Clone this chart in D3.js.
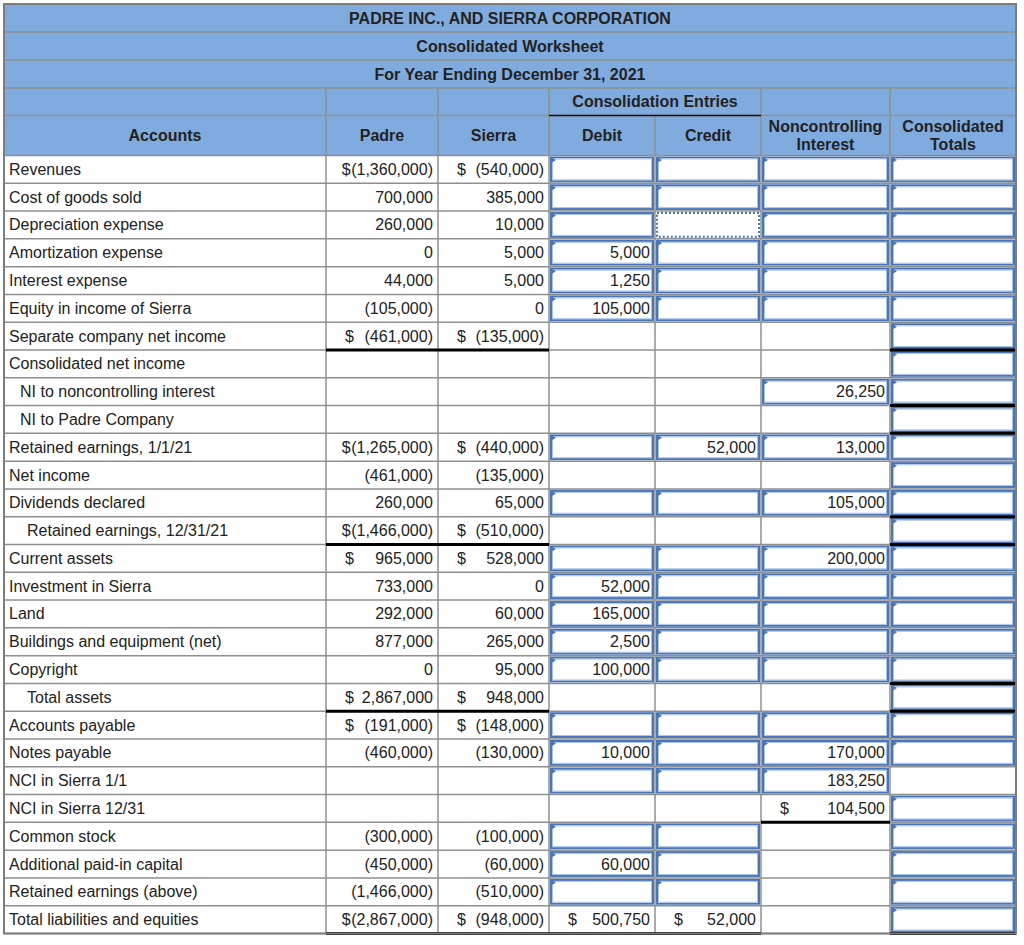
<!DOCTYPE html>
<html><head><meta charset="utf-8">
<script src="https://cdn.jsdelivr.net/npm/d3@7"></script>
<style>body{margin:0;background:#fff;} text{font-family:"Liberation Sans",Arial,Helvetica,sans-serif;}</style>
</head><body><svg id="c" width="1024" height="945"></svg>
<script>
// ---------------- DATA ----------------
const titleLines = ["PADRE INC., AND SIERRA CORPORATION", "Consolidated Worksheet", "For Year Ending December 31, 2021"];
const groupHeader = "Consolidation Entries";
const columnHeaders = [["Accounts"], ["Padre"], ["Sierra"], ["Debit"], ["Credit"], ["Noncontrolling", "Interest"], ["Consolidated", "Totals"]];
const accounts = ["Revenues", "Cost of goods sold", "Depreciation expense", "Amortization expense", "Interest expense",
  "Equity in income of Sierra", "Separate company net income", "Consolidated net income", "NI to noncontrolling interest",
  "NI to Padre Company", "Retained earnings, 1/1/21", "Net income", "Dividends declared", "Retained earnings, 12/31/21",
  "Current assets", "Investment in Sierra", "Land", "Buildings and equipment (net)", "Copyright", "Total assets",
  "Accounts payable", "Notes payable", "NCI in Sierra 1/1", "NCI in Sierra 12/31", "Common stock",
  "Additional paid-in capital", "Retained earnings (above)", "Total liabilities and equities"];
const indentLevel = [0,0,0,0,0,0,0,0,1,1,0,0,0,2,0,0,0,0,0,2,0,0,0,0,0,0,0,0];
const padre = [-1360000, 700000, 260000, 0, 44000, -105000, -461000, null, null, null, -1265000, -461000, 260000, -1466000,
  965000, 733000, 292000, 877000, 0, 2867000, -191000, -460000, null, null, -300000, -450000, -1466000, -2867000];
const sierra = [-540000, 385000, 10000, 5000, 5000, 0, -135000, null, null, null, -440000, -135000, 65000, -510000,
  528000, 0, 60000, 265000, 95000, 948000, -148000, -130000, null, null, -100000, -60000, -510000, -948000];
const debit = [null, null, null, 5000, 1250, 105000, null, null, null, null, null, null, null, null,
  null, 52000, 165000, 2500, 100000, null, null, 10000, null, null, null, 60000, null, 500750];
const credit = [null, null, null, null, null, null, null, null, null, null, 52000, null, null, null,
  null, null, null, null, null, null, null, null, null, null, null, null, null, 52000];
const nci = [null, null, null, null, null, null, null, null, 26250, null, 13000, null, 105000, null,
  200000, null, null, null, null, null, null, 170000, 183250, 104500, null, null, null, null];
const consolidated = new Array(28).fill(null);
const dollarRowsCompany = [0, 6, 10, 13, 14, 19, 20, 27];
const dollarRowsEntries = [27];
const dollarRowsNci = [23];
// input-cell kinds per column: B = entry box, D = focused (dotted) box, P = plain
const debitCells  = "BBBBBBPPPPBPBPBBBBBPBBBPBBBP";
const creditCells = "BBDBBBPPPPBPBPBBBBBPBBBPBBBP";
const nciCells    = "BBBBBBPPBPBPBPBBBBBPBBBPPPPP";
const consCells   = "BBBBBBBBBBBBBBBBBBBBBBPBBBBB";
// total underlines: column index -> rows whose bottom edge is ruled
const totalRules = [[1, [6, 13, 19, 27]], [2, [6, 13, 19, 27]], [3, [27]], [4, [27]], [5, [23]], [6, [6, 8, 9, 12, 13, 18, 19, 27]]];

// ---------------- LAYOUT ----------------
const colEdges = [4, 326, 438, 549, 655, 761, 890, 1016];
const headerEdges = [4, 32, 60, 88, 115.5, 155.5];
const HEADER_FILL = "#80abdf", GRID = "#8f8f8f", BOX = "#4a76b5", BOX_IN = "#a8c3e8", INK = "#222";
const svg = d3.select("#c");
svg.append("rect").attr("width", 1024).attr("height", 945).attr("fill", "#fff");

const rowScale = d3.scaleBand().domain(d3.range(accounts.length)).range([155.5, 933.5]).padding(0);
const colX = i => colEdges[i];
const colW = i => colEdges[i + 1] - colEdges[i];

// header background
svg.append("rect").attr("x", colEdges[0]).attr("y", headerEdges[0])
  .attr("width", colEdges[7] - colEdges[0]).attr("height", headerEdges[5] - headerEdges[0]).attr("fill", HEADER_FILL);

headerEdges.slice(1).forEach(y => {
  svg.append("line").attr("x1", colEdges[0]).attr("x2", colEdges[7]).attr("y1", y).attr("y2", y)
    .attr("stroke", GRID).attr("stroke-width", 1.5);
});
[1, 2, 3, 5, 6].forEach(c => svg.append("line").attr("x1", colX(c)).attr("x2", colX(c))
  .attr("y1", headerEdges[3]).attr("y2", headerEdges[5]).attr("stroke", GRID).attr("stroke-width", 1.5));
svg.append("line").attr("x1", colX(4)).attr("x2", colX(4)).attr("y1", headerEdges[4]).attr("y2", headerEdges[5])
  .attr("stroke", GRID).attr("stroke-width", 1.5);
svg.append("line").attr("x1", colX(3)).attr("x2", colX(5)).attr("y1", headerEdges[4]).attr("y2", headerEdges[4])
  .attr("stroke", "#111").attr("stroke-width", 1.5);

const hdr = svg.append("g").attr("font-weight", "bold").attr("font-size", 16).attr("fill", INK).attr("text-anchor", "middle");
titleLines.forEach((t, i) => hdr.append("text").attr("x", (colEdges[0] + colEdges[7]) / 2)
  .attr("y", (headerEdges[i] + headerEdges[i + 1]) / 2 + 5.5).text(t));
hdr.append("text").attr("x", (colX(3) + colX(5)) / 2).attr("y", (headerEdges[3] + headerEdges[4]) / 2 + 5.5).text(groupHeader);
columnHeaders.forEach((lines, c) => {
  const cy = (headerEdges[4] + headerEdges[5]) / 2;
  lines.forEach((l, j) => hdr.append("text").attr("x", colX(c) + colW(c) / 2)
    .attr("y", cy + 5.5 + (j - (lines.length - 1) / 2) * 18).text(l));
});

// data grid
const grid = svg.append("g").attr("stroke", GRID).attr("stroke-width", 1.5);
accounts.forEach((a, r) => {
  const y = rowScale(r) + rowScale.bandwidth();
  grid.append("line").attr("x1", colEdges[0]).attr("x2", colEdges[7]).attr("y1", y).attr("y2", y);
});
colEdges.slice(1, 7).forEach(x => grid.append("line").attr("x1", x).attr("x2", x)
  .attr("y1", headerEdges[5]).attr("y2", rowScale.range()[1]));

// input boxes
const cellKinds = [null, null, null, debitCells, creditCells, nciCells, consCells];
const boxes = svg.append("g");
cellKinds.forEach((kinds, c) => {
  if (!kinds) return;
  kinds.split("").forEach((k, r) => {
    if (k === "P") return;
    const x = colX(c) + 2, y = rowScale(r) + 2, w = colW(c) - 4, h = rowScale.bandwidth() - 4;
    if (k === "B") {
      boxes.append("rect").attr("x", x).attr("y", y).attr("width", w).attr("height", h)
        .attr("fill", "#fff").attr("stroke", BOX).attr("stroke-width", 2);
      boxes.append("rect").attr("x", x + 1.5).attr("y", y + 1.5).attr("width", w - 3).attr("height", h - 3)
        .attr("fill", "none").attr("stroke", BOX_IN).attr("stroke-width", 1);
      boxes.append("path").attr("d", `M${x},${y - 0.5}L${x + 5},${y + 2.5}L${x},${y + 5.5}Z`).attr("fill", BOX);
    } else {
      boxes.append("rect").attr("x", x).attr("y", y).attr("width", w).attr("height", h)
        .attr("fill", "#fff").attr("stroke", BOX).attr("stroke-width", 2).attr("stroke-dasharray", "2,2");
    }
  });
});

// total rules
const rules = svg.append("g").attr("stroke", "#000").attr("stroke-width", 3);
totalRules.forEach(([c, rows]) => rows.forEach(r => {
  const y = rowScale(r) + rowScale.bandwidth();
  rules.append("line").attr("x1", colX(c)).attr("x2", colX(c + 1)).attr("y1", y).attr("y2", y);
}));

// outer border
svg.append("rect").attr("x", colEdges[0]).attr("y", headerEdges[0]).attr("width", colEdges[7] - colEdges[0])
  .attr("height", rowScale.range()[1] - headerEdges[0]).attr("fill", "none").attr("stroke", "#7d7d7d").attr("stroke-width", 2);

// labels
const body = svg.append("g").attr("font-size", 16).attr("fill", INK);
const indentPx = [5, 16, 23];
accounts.forEach((a, r) => body.append("text").attr("x", colX(0) + indentPx[indentLevel[r]])
  .attr("y", rowScale(r) + rowScale.bandwidth() / 2 + 5.5).text(a));

// numbers
const fmt = d3.format(",");
const numStr = v => v < 0 ? `(${fmt(-v)})` : fmt(v);
function drawColumn(values, c, dollarRows) {
  values.forEach((v, r) => {
    if (v === null) return;
    const yb = rowScale(r) + rowScale.bandwidth() / 2 + 5.5;
    const right = colX(c + 1) - 5;
    const t = body.append("text").attr("x", right).attr("y", yb).attr("text-anchor", "end").text(numStr(v));
    if (dollarRows.includes(r)) {
      const left = right - t.node().getComputedTextLength();
      const d = body.append("text").attr("y", yb).text("$");
      const dw = d.node().getComputedTextLength();
      d.attr("x", Math.min(colX(c) + 19, left - dw - 0.5));
    }
  });
}
drawColumn(padre, 1, dollarRowsCompany);
drawColumn(sierra, 2, dollarRowsCompany);
drawColumn(debit, 3, dollarRowsEntries);
drawColumn(credit, 4, dollarRowsEntries);
drawColumn(nci, 5, dollarRowsNci);
drawColumn(consolidated, 6, []);
</script></body></html>
